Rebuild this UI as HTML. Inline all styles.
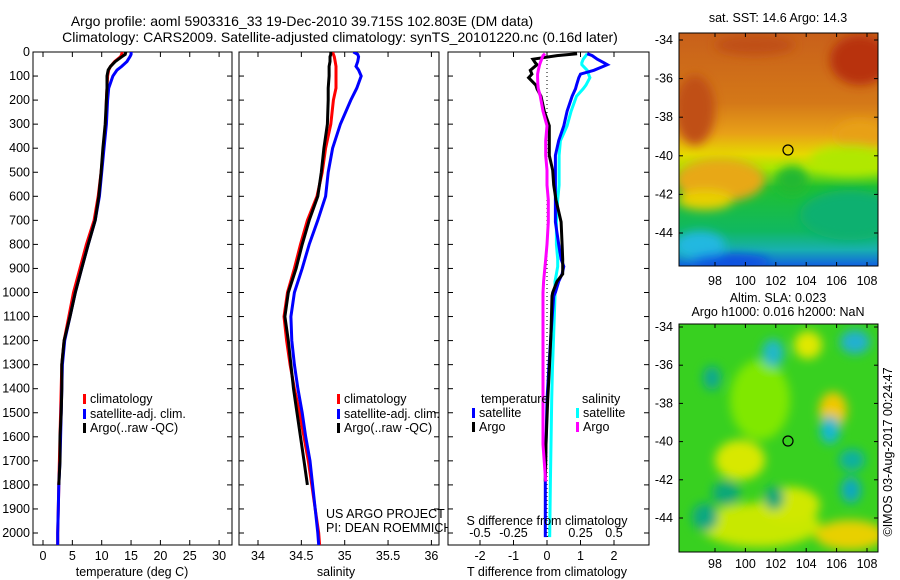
<!DOCTYPE html>
<html><head><meta charset="utf-8"><style>
body{margin:0;background:#fff;}
svg{display:block;font-family:"Liberation Sans",Arial,sans-serif;}
text{fill:#000;}
</style></head><body>
<svg id="c" width="900" height="580" viewBox="0 0 900 580" xmlns="http://www.w3.org/2000/svg">
<defs>
<linearGradient id="sstg" x1="0" y1="0" x2="0" y2="1">
<stop offset="0" stop-color="#c8601a"/><stop offset="0.3" stop-color="#d47818"/><stop offset="0.43" stop-color="#e8a018"/><stop offset="0.52" stop-color="#e6d800"/><stop offset="0.58" stop-color="#a8e800"/><stop offset="0.66" stop-color="#20c030"/><stop offset="0.85" stop-color="#10b860"/><stop offset="0.93" stop-color="#18b0b0"/><stop offset="1" stop-color="#1060e0"/>
</linearGradient>
<filter id="bl" x="-50%" y="-50%" width="200%" height="200%"><feGaussianBlur stdDeviation="5"/></filter>
<clipPath id="m1c"><rect x="679" y="33" width="199" height="233"/></clipPath>
<clipPath id="m2c"><rect x="679" y="324" width="199" height="228"/></clipPath>
<clipPath id="p1c"><rect x="33" y="52" width="199" height="493"/></clipPath>
<clipPath id="p2c"><rect x="239" y="52" width="200" height="493"/></clipPath>
<clipPath id="p3c"><rect x="448" y="52" width="201" height="493"/></clipPath>
</defs>

<text x="302" y="26" text-anchor="middle" font-size="14">Argo profile: aoml 5903316_33 19-Dec-2010 39.715S 102.803E (DM data)</text>
<text x="340" y="42" text-anchor="middle" font-size="14">Climatology: CARS2009. Satellite-adjusted climatology: synTS_20101220.nc (0.16d later)</text>

<g id="panels"></g>

<!-- SST map -->
<text x="778" y="22" text-anchor="middle" font-size="12.5">sat. SST: 14.6 Argo: 14.3</text>
<g clip-path="url(#m1c)">
<rect x="679" y="33" width="199" height="233" fill="url(#sstg)"/>
<g filter="url(#bl)">
<ellipse cx="695" cy="110" rx="20" ry="35" fill="#c05018"/>
<ellipse cx="860" cy="60" rx="30" ry="25" fill="#b83010"/>
<ellipse cx="755" cy="45" rx="40" ry="10" fill="#c05018"/>
<ellipse cx="860" cy="135" rx="25" ry="15" fill="#e8a018"/>
<ellipse cx="850" cy="160" rx="40" ry="15" fill="#b0e800"/>
<ellipse cx="720" cy="180" rx="45" ry="22" fill="#e8a818"/>
<ellipse cx="705" cy="200" rx="28" ry="10" fill="#e8d000"/>
<ellipse cx="792" cy="180" rx="16" ry="14" fill="#20b830"/>
<ellipse cx="850" cy="215" rx="50" ry="25" fill="#10b070"/>
<ellipse cx="700" cy="245" rx="25" ry="14" fill="#20b8e0"/>
<ellipse cx="730" cy="262" rx="40" ry="8" fill="#1050e0"/>
</g>
<circle cx="788" cy="150" r="5" fill="none" stroke="#000" stroke-width="1.2"/>
</g>
<rect x="679" y="33" width="199" height="233" fill="none" stroke="#000"/>

<text x="778" y="302" text-anchor="middle" font-size="12.5">Altim. SLA: 0.023</text>
<text x="778" y="316" text-anchor="middle" font-size="12.5">Argo h1000: 0.016 h2000: NaN</text>
<g clip-path="url(#m2c)">
<rect x="679" y="324" width="199" height="228" fill="#38d020"/>
<g filter="url(#bl)">
<ellipse cx="760" cy="400" rx="30" ry="40" fill="#80e800"/>
<ellipse cx="740" cy="460" rx="25" ry="20" fill="#d8e800"/>
<ellipse cx="760" cy="525" rx="60" ry="22" fill="#c8e800"/>
<ellipse cx="850" cy="535" rx="35" ry="15" fill="#e8d000"/>
<ellipse cx="833" cy="410" rx="14" ry="18" fill="#f0c800"/>
<ellipse cx="808" cy="345" rx="14" ry="14" fill="#e0e800"/>
<ellipse cx="790" cy="505" rx="30" ry="18" fill="#d0e800"/>
<ellipse cx="773" cy="353" rx="11" ry="14" fill="#20b8c8"/>
<ellipse cx="855" cy="342" rx="15" ry="12" fill="#20b0d0"/>
<ellipse cx="712" cy="378" rx="9" ry="12" fill="#10a890"/>
<ellipse cx="830" cy="430" rx="10" ry="14" fill="#18b8d0"/>
<ellipse cx="852" cy="460" rx="13" ry="11" fill="#10b0a0"/>
<ellipse cx="851" cy="490" rx="10" ry="13" fill="#10a8c0"/>
<ellipse cx="726" cy="493" rx="14" ry="12" fill="#10a878"/>
<ellipse cx="705" cy="517" rx="13" ry="14" fill="#10a880"/>
<ellipse cx="774" cy="498" rx="10" ry="12" fill="#10a878"/>
</g>
<circle cx="788" cy="441" r="5" fill="none" stroke="#000" stroke-width="1.2"/>
</g>
<rect x="679" y="324" width="199" height="228" fill="none" stroke="#000"/>
<text transform="translate(892,452) rotate(-90)" text-anchor="middle" font-size="12.5">©IMOS 03-Aug-2017 00:24:47</text>
<g id="maptk"></g>
</svg>
<script>
// depth axis (m)
const tDepth = [0,10,20,40,60,75,100,150,200,300,400,500,600,700,800,900,1000,1100,1200,1300,1400,1500,1600,1700,1800,1900,2000,2050];
const tempClim = [13.5,13.4,13.2,12.2,11.5,11.2,11.0,10.9,10.8,10.7,10.3,9.9,9.4,8.7,7.4,6.3,5.2,4.4,3.6,3.2,3.1,3.0,2.9,2.8,2.7,2.6,2.5,2.5];
const tempSat  = [15.0,15.0,14.8,14.3,13.4,12.6,11.9,11.2,11.0,10.8,10.4,10.0,9.6,8.9,7.7,6.6,5.5,4.6,3.7,3.3,3.2,3.1,3.0,2.9,2.7,2.6,2.5,2.5];
const argoDepth = [0,10,20,40,60,75,100,150,200,300,400,500,600,700,800,900,1000,1100,1200,1300,1400,1500,1600,1700,1800];
const tempArgo = [14.1,14.0,13.4,12.3,11.5,11.1,10.9,10.9,10.8,10.6,10.2,9.9,9.5,8.9,7.7,6.6,5.5,4.6,3.6,3.2,3.2,3.1,2.9,2.9,2.7];
const salClim = [34.86,34.87,34.88,34.89,34.90,34.90,34.90,34.90,34.87,34.84,34.78,34.74,34.68,34.57,34.49,34.42,34.34,34.30,34.33,34.37,34.42,34.48,34.53,34.58,34.62,34.66,34.70,34.71];
const salSat  = [35.10,35.15,35.16,35.15,35.13,35.16,35.19,35.14,35.07,34.95,34.86,34.81,34.78,34.69,34.59,34.51,34.42,34.38,34.39,34.42,34.46,34.51,34.55,34.60,34.63,34.66,34.69,34.70];
const salArgo = [34.84,34.84,34.83,34.83,34.82,34.82,34.82,34.81,34.81,34.80,34.76,34.73,34.69,34.59,34.51,34.44,34.35,34.31,34.35,34.38,34.41,34.45,34.49,34.53,34.57];
// difference panel
const dDepth = [7,15,30,45,53,76,92,107,138,153,184,246,307,369,430,492,553,615,707,800,862,892,923,954,1000,1015,1170,1323,1447,1631,1786,2017];
const dTempSat = [1.2,1.35,1.5,1.7,1.8,1.4,1.0,0.95,0.88,0.85,0.75,0.6,0.5,0.35,0.25,0.25,0.25,0.25,0.25,0.35,0.42,0.5,0.45,0.35,0.25,0.2,0.12,0.05,0.0,-0.03,-0.05,-0.05];
const dTempArgo = [0.9,0.3,-0.42,-0.35,-0.3,-0.5,-0.45,-0.55,-0.33,-0.3,-0.18,-0.08,0.07,0.07,0.07,0.17,0.2,0.27,0.42,0.45,0.47,0.47,0.47,0.3,0.17,0.15,0.12,0.07,0.02,-0.03,-0.05,null];
const dSalSat = [0.3,0.29,0.27,0.26,0.26,0.3,0.31,0.32,0.29,0.27,0.22,0.18,0.15,0.1,0.09,0.09,0.09,0.08,0.07,0.07,0.08,0.08,0.07,0.06,0.06,0.06,0.05,0.04,0.035,0.03,0.025,0.02];
const dSalArgo = [-0.015,-0.03,-0.04,-0.05,-0.055,-0.065,-0.07,-0.07,-0.068,-0.065,-0.05,-0.03,0.0,-0.01,-0.01,0.0,0.0,0.01,0.01,0.0,-0.01,-0.015,-0.02,-0.025,-0.03,-0.03,-0.03,-0.03,-0.03,-0.03,-0.01,null];
const depthTicks = [0,100,200,300,400,500,600,700,800,900,1000,1100,1200,1300,1400,1500,1600,1700,1800,1900,2000];
const tempTicks = [0,5,10,15,20,25,30];
const salTicks = [34,34.5,35,35.5,36];
const dTTicks = [-2,-1,0,1,2];
const dSTicks = [-0.5,-0.25,0,0.25,0.5];
const latTicks = [-34,-36,-38,-40,-42,-44];
const lonTicks = [98,100,102,104,106,108];

const NS='http://www.w3.org/2000/svg';
const G=document.getElementById('panels');
const FS=12.5;
function mk(tag,at,parent){const e=document.createElementNS(NS,tag);for(const k in at)e.setAttribute(k,at[k]);(parent||G).appendChild(e);return e;}
const yD=d=>52+d*0.2405;
const xT=t=>43+5.87*t;
const xS=s=>258+86.7*(s-34);
const xDT=v=>547+33.5*v;
const xDS=v=>547+134*v;
const TOP=52,BOT=545;

function frame(x0,x1,name){
  const r=mk('rect',{x:x0,y:TOP,width:x1-x0,height:BOT-TOP,fill:'#fff',stroke:'#000','stroke-width':1});
  
  
  depthTicks.forEach(d=>{mk('line',{x1:x0,x2:x0+5,y1:yD(d),y2:yD(d),stroke:'#000'});mk('line',{x1:x1-5,x2:x1,y1:yD(d),y2:yD(d),stroke:'#000'});});
}
function xticks(vals,f,labelY,name){
  vals.forEach(v=>{const x=f(v);mk('line',{x1:x,x2:x,y1:TOP,y2:TOP+5,stroke:'#000'});mk('line',{x1:x,x2:x,y1:BOT-5,y2:BOT,stroke:'#000'});
    const t=mk('text',{x:x,y:labelY,'text-anchor':'middle','font-size':FS});t.textContent=String(v);
    
    });
}
function line(depths,vals,f,color,clip,name){
  let pts=[];depths.forEach((d,i)=>{if(vals[i]!==null&&vals[i]!==undefined)pts.push(f(vals[i]).toFixed(1)+','+yD(d).toFixed(1));});
  const p=mk('polyline',{points:pts.join(' '),fill:'none',stroke:color,'stroke-width':3,'clip-path':'url(#'+clip+')'});
  
  
}
function legend(x,y,color,label,name){
  mk('rect',{x:x,y:y-9,width:3,height:10,fill:color});
  const t=mk('text',{x:x+7,y:y,'font-size':FS});t.textContent=label;
  
  
}
function label(x,y,txt,name,anchor){
  const t=mk('text',{x:x,y:y,'text-anchor':anchor||'start','font-size':FS});t.textContent=txt;
  
  
}

// Panel 1
frame(33,232,'temperature-panel');
depthTicks.forEach(d=>label(30,yD(d)+4,String(d),'depth-tick-label','end'));
xticks(tempTicks,xT,560,'temperature-tick-label');
line(tDepth,tempClim,xT,'#f00','p1c','temperature-climatology-line');
line(tDepth,tempSat,xT,'#00f','p1c','temperature-satellite-line');
line(argoDepth,tempArgo,xT,'#000','p1c','temperature-argo-line');
legend(83,403,'#f00','climatology','legend-climatology');
legend(83,418,'#00f','satellite-adj. clim.','legend-satellite');
legend(83,432,'#000','Argo(..raw -QC)','legend-argo');
label(132,576,'temperature (deg C)','temperature-axis-title','middle');

// Panel 2
frame(239,439,'salinity-panel');
xticks(salTicks,xS,560,'salinity-tick-label');
line(tDepth,salClim,xS,'#f00','p2c','salinity-climatology-line');
line(tDepth,salSat,xS,'#00f','p2c','salinity-satellite-line');
line(argoDepth,salArgo,xS,'#000','p2c','salinity-argo-line');
legend(337,403,'#f00','climatology','legend-climatology-2');
legend(337,418,'#00f','satellite-adj. clim.','legend-satellite-2');
legend(337,432,'#000','Argo(..raw -QC)','legend-argo-2');
label(336,576,'salinity','salinity-axis-title','middle');

// credits (drawn before panel 3 so its frame clips them)
label(326,518,'US ARGO PROJECT','project-credit');
label(326,532,'PI: DEAN ROEMMICH','pi-credit');

// Panel 3
frame(448,649,'difference-panel');
xticks(dTTicks,xDT,560,'t-diff-tick-label');
dSTicks.forEach(v=>label(xDS(v),537,String(v),'s-diff-tick-label','middle'));
mk('line',{x1:547,x2:547,y1:TOP,y2:BOT,stroke:'#000','stroke-dasharray':'1,3'});
line(dDepth,dSalSat,xDS,'#0ff','p3c','s-diff-satellite-line');
line(dDepth,dTempSat,xDT,'#00f','p3c','t-diff-satellite-line');
line(dDepth,dTempArgo,xDT,'#000','p3c','t-diff-argo-line');
line(dDepth,dSalArgo,xDS,'#f0f','p3c','s-diff-argo-line');
label(481,403,'temperature','legend-temperature-header');
label(582,403,'salinity','legend-salinity-header');
legend(472,417,'#00f','satellite','legend-t-satellite');
legend(472,431,'#000','Argo','legend-t-argo');
legend(576,417,'#0ff','satellite','legend-s-satellite');
legend(576,431,'#f0f','Argo','legend-s-argo');
label(547,525,'S difference from climatology','s-diff-axis-title','middle');
label(547,576,'T difference from climatology','t-diff-axis-title','middle');

// map ticks
const MT=document.getElementById('maptk');
function mapAxes(y0,y1,latY,lonY){
  latTicks.forEach(l=>{const y=latY(l);mk('line',{x1:679,x2:683,y1:y,y2:y,stroke:'#000'},MT);mk('line',{x1:874,x2:878,y1:y,y2:y,stroke:'#000'},MT);
    const tx=mk('text',{x:673,y:y+4,'text-anchor':'end','font-size':FS},MT);tx.textContent=l;
    
    });
  lonTicks.forEach(l=>{const x=715+15.2*(l-98);mk('line',{x1:x,x2:x,y1:y0,y2:y0+4,stroke:'#000'},MT);mk('line',{x1:x,x2:x,y1:y1-4,y2:y1,stroke:'#000'},MT);
    const tx=mk('text',{x:x,y:lonY,'text-anchor':'middle','font-size':FS},MT);tx.textContent=l;
    
    });
}
mapAxes(33,266,l=>40+19.3*(-34-l),285);
mapAxes(324,552,l=>327+19.1*(-34-l),568);
</script>
</body></html>
